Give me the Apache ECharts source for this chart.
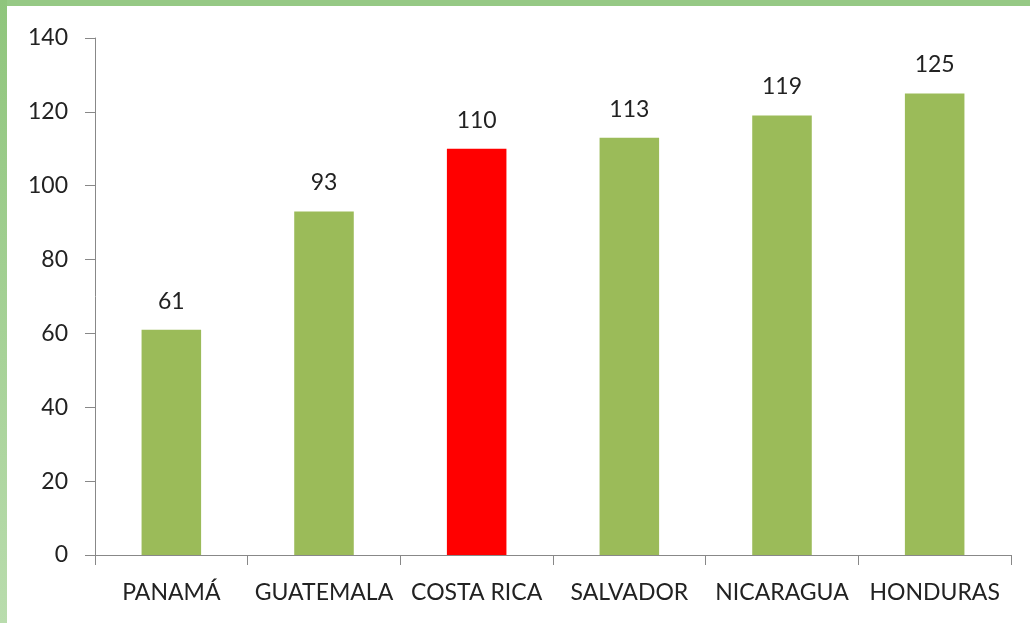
<!DOCTYPE html>
<html>
<head>
<meta charset="utf-8">
<script src="https://cdn.jsdelivr.net/npm/echarts@6/dist/echarts.min.js"></script>
<style>
html,body{margin:0;padding:0;background:#fff;}
#wrap{position:relative;width:1030px;height:623px;overflow:hidden;}
#top{position:absolute;left:0;top:0;width:1030px;height:6px;background:#96c985;}
#left{position:absolute;left:0;top:0;width:7px;height:623px;background:linear-gradient(#8fc57c,#b9dcad);}
#chart{position:absolute;left:0;top:0;width:1030px;height:623px;}
</style>
</head>
<body>
<div id="wrap">
<div id="chart"></div>
<div id="top"></div>
<div id="left"></div>
</div>
<script>
const categories = ['PANAMÁ','GUATEMALA','COSTA RICA','SALVADOR','NICARAGUA','HONDURAS'];
const values = [61, 93, 110, 113, 119, 125];
const highlight = 'COSTA RICA';
const yTicks = [0, 20, 40, 60, 80, 100, 120, 140];

const chart = echarts.init(document.getElementById('chart'));
const font = 'Lato, "Open Sans", sans-serif';
chart.setOption({
  animation: false,
  grid: {left: 95, right: 19, top: 38, bottom: 68, containLabel: false},
  xAxis: {
    type: 'category',
    data: categories,
    axisLine: {lineStyle: {color: '#888', width: 1}},
    axisTick: {show: true, length: 10, alignWithLabel: false, lineStyle: {color: '#888'}},
    axisLabel: {color: '#222', fontSize: 23, fontFamily: font, margin: 26, interval: 0}
  },
  yAxis: {
    type: 'value',
    min: yTicks[0], max: yTicks[yTicks.length - 1], interval: 20,
    axisLine: {show: true, lineStyle: {color: '#888', width: 1}},
    axisTick: {show: true, length: 10, lineStyle: {color: '#888'}},
    splitLine: {show: false},
    axisLabel: {color: '#222', fontSize: 23, fontFamily: font, margin: 27}
  },
  series: [{
    type: 'bar',
    barWidth: '39%',
    data: values.map((v, i) => ({
      value: v,
      itemStyle: {color: categories[i] === highlight ? '#ff0000' : '#9bbb59'}
    })),
    label: {show: true, position: 'top', distance: 17, color: '#222', fontSize: 23, fontFamily: font}
  }]
});
</script>
</body>
</html>
